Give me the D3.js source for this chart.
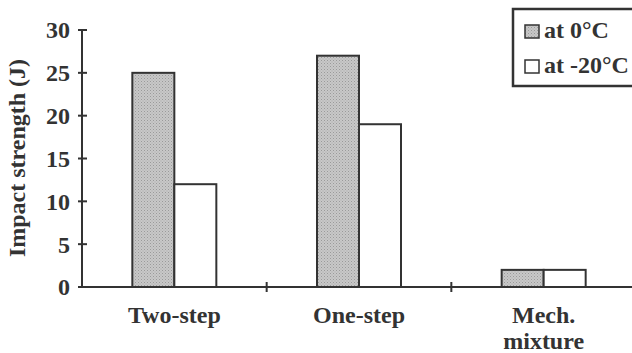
<!DOCTYPE html>
<html>
<head>
<style>
  body { margin: 0; background: #fff; }
  text { font-family: "Liberation Serif", "Times New Roman", serif; font-weight: bold; fill: #333; }
</style>
</head>
<body>
<svg id="chart" width="632" height="353"></svg>
<script src="https://d3js.org/d3.v7.min.js"></script>
<script>
var categories = ["Two-step", "One-step", "Mech. mixture"];
var series = ["at 0\u00B0C", "at -20\u00B0C"];
var at0 = [25, 27, 2];
var atMinus20 = [12, 19, 2];
var yTicks = [0, 5, 10, 15, 20, 25, 30];

var svg = d3.select("#chart");
var ink = "#333";

var x = d3.scaleBand().domain(categories).range([82, 636]);
var y = d3.scaleLinear().domain([0, 30]).range([287, 30]);
var barW = 42;

// gray stipple pattern
var pat = svg.append("defs").append("pattern")
    .attr("id", "dots").attr("width", 3).attr("height", 3)
    .attr("patternUnits", "userSpaceOnUse");
pat.append("rect").attr("width", 3).attr("height", 3).attr("fill", "#c8c8c8");
pat.append("rect").attr("width", 1).attr("height", 1).attr("fill", "#9a9a9a");
pat.append("rect").attr("x", 1.5).attr("y", 1.5).attr("width", 1).attr("height", 1).attr("fill", "#a8a8a8");

// bars
var rows = categories.map(function(c, i) { return { c: c, v: [at0[i], atMinus20[i]] }; });
rows.forEach(function(r) {
    var cx = x(r.c) + x.bandwidth() / 2;
    r.v.forEach(function(v, j) {
        svg.append("rect")
            .attr("x", j === 0 ? cx - barW : cx)
            .attr("y", y(v))
            .attr("width", barW)
            .attr("height", y(0) - y(v))
            .attr("fill", j === 0 ? "url(#dots)" : "#fff")
            .attr("stroke", ink)
            .attr("stroke-width", 2);
    });
});

// y axis
svg.append("line").attr("x1", 82).attr("x2", 82).attr("y1", y(30)).attr("y2", y(0))
    .attr("stroke", ink).attr("stroke-width", 2);
yTicks.forEach(function(t) {
    svg.append("line").attr("x1", 78).attr("x2", 87).attr("y1", y(t)).attr("y2", y(t))
        .attr("stroke", ink).attr("stroke-width", 2);
    svg.append("text").attr("x", 70).attr("y", y(t)).attr("dy", "0.35em")
        .attr("text-anchor", "end").attr("font-size", 24).text(t);
});

// x axis
svg.append("line").attr("x1", 82).attr("x2", 632).attr("y1", y(0)).attr("y2", y(0))
    .attr("stroke", ink).attr("stroke-width", 2);
categories.slice(1).forEach(function(c) {
    svg.append("line").attr("x1", x(c)).attr("x2", x(c)).attr("y1", y(0) - 5).attr("y2", y(0) + 5)
        .attr("stroke", ink).attr("stroke-width", 2);
});
categories.forEach(function(c) {
    var words = c === "Mech. mixture" ? ["Mech.", "mixture"] : [c];
    words.forEach(function(w, k) {
        svg.append("text").attr("x", x(c) + x.bandwidth() / 2).attr("y", 323 + k * 26)
            .attr("text-anchor", "middle").attr("font-size", 24).text(w);
    });
});

// y label
svg.append("text").attr("transform", "translate(25,158) rotate(-90)")
    .attr("text-anchor", "middle").attr("font-size", 24).text("Impact strength (J)");

// legend
svg.append("rect").attr("x", 513).attr("y", 9).attr("width", 125).attr("height", 77)
    .attr("fill", "#fff").attr("stroke", ink).attr("stroke-width", 2.5);
series.forEach(function(s, i) {
    svg.append("rect").attr("x", 525).attr("y", 25 + i * 35).attr("width", 14).attr("height", 13)
        .attr("fill", i === 0 ? "url(#dots)" : "#fff").attr("stroke", ink).attr("stroke-width", 1.5);
    svg.append("text").attr("x", 544).attr("y", 38 + i * 35)
        .attr("font-size", 24).text(s);
});
</script>
</body>
</html>
